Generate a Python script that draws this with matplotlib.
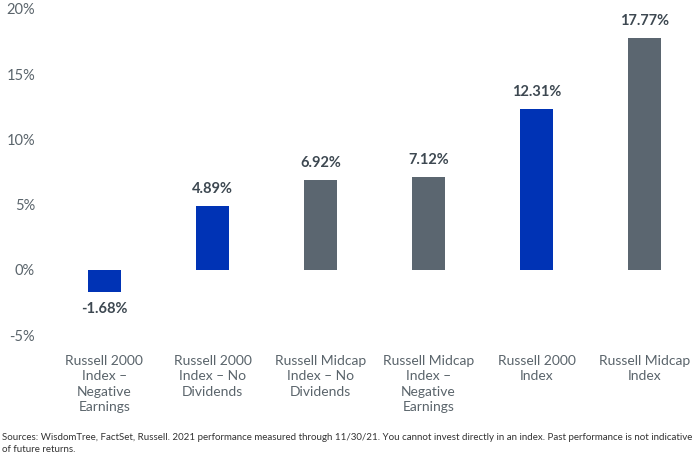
import matplotlib.pyplot as plt

categories = ["Russell 2000\nIndex \u2013\nNegative\nEarnings",
              "Russell 2000\nIndex \u2013 No\nDividends",
              "Russell Midcap\nIndex \u2013 No\nDividends",
              "Russell Midcap\nIndex \u2013\nNegative\nEarnings",
              "Russell 2000\nIndex",
              "Russell Midcap\nIndex"]
values = [-1.68, 4.89, 6.92, 7.12, 12.31, 17.77]
colors = ["#0033b5", "#0033b5", "#5b6670", "#5b6670", "#0033b5", "#5b6670"]
yticks = [-5, 0, 5, 10, 15, 20]

plt.rcParams['font.family'] = ['Lato', 'DejaVu Sans']

fig = plt.figure(figsize=(7, 4.7), dpi=100)
ax = fig.add_axes([0.072, 0.287, 0.926, 0.694])

x = range(len(values))
ax.bar(x, values, width=0.305, color=colors)

for i, v in enumerate(values):
    if v >= 0:
        ax.text(i, v + 0.75, f"{v:.2f}%", ha='center', va='bottom',
                fontsize=10.5, fontweight='bold', color='#3d4851')
    else:
        ax.text(i, v - 0.75, f"{v:.2f}%", ha='center', va='top',
                fontsize=10.5, fontweight='bold', color='#3d4851')

ax.set_ylim(-5, 20)
ax.set_xlim(-0.5, 5.5)
ax.set_yticks(yticks)
ax.set_yticklabels([f"{t}%" for t in yticks], fontsize=10.5, color='#5a646b')
ax.set_xticks(list(x))
ax.set_xticklabels(categories, fontsize=10, color='#5a646b', linespacing=1.35)
ax.tick_params(axis='both', length=0)
ax.tick_params(axis='x', pad=14)
ax.tick_params(axis='y', pad=11)
for s in ax.spines.values():
    s.set_visible(False)

fig.text(0.003, 0.056, "Sources: WisdomTree, FactSet, Russell. 2021 performance measured through 11/30/21. "
         "You cannot invest directly in an index. Past performance is not indicative\nof future returns.",
         fontsize=7, color='#333333', va='center', linespacing=1.45)

fig.savefig("out.png", dpi=100)
